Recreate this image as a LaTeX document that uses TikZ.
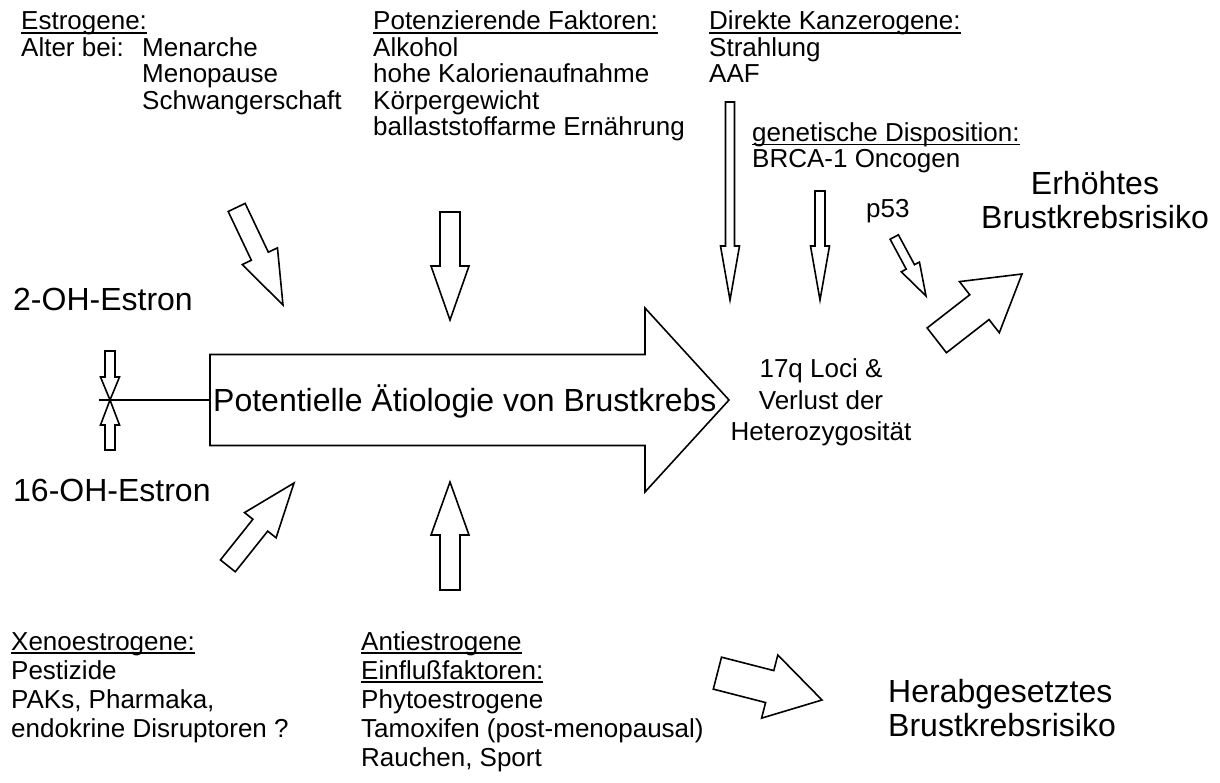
\documentclass[tikz,border=0pt]{standalone}
\usepackage{fontspec}
\setmainfont{Liberation Sans}
\usetikzlibrary{positioning}

% underlined heading
\newcommand{\uhead}[1]{\setbox0\hbox{#1}\rlap{\rule[-3.8pt]{\wd0}{1.5pt}}\box0}

% fat block arrow: tip x, tip y, direction, length, shaft/2, head/2, head length
\newcommand{\fatarrow}[7]{%
  \draw[fat, shift={(#1,#2)}, rotate=#3]
    (0,0) -- (-#7,#6) -- (-#7,#5) -- (-#4,#5) -- (-#4,-#5) -- (-#7,-#5) -- (-#7,-#6) -- cycle;}

\tikzset{
  fat/.style={draw, line width=1.6pt, fill=white},
  small/.style={font=\fontsize{26}{26.5}\selectfont, align=left, inner sep=0pt},
  lower/.style={font=\fontsize{26}{29}\selectfont, align=left, inner sep=0pt},
  big/.style={font=\fontsize{32}{34}\selectfont, inner sep=0pt},
}

\begin{document}
\begin{tikzpicture}[x=1pt, y=-1pt]
        \useasboundingbox (0,0) rectangle (1220,783);

        % Arrows
        \fatarrow{729}{400}{0}{519}{45.5}{92}{84}
        \fatarrow{283}{305}{-64.6}{108}{9.4}{19.5}{54}
        \fatarrow{450}{320}{-90}{108}{10}{19}{54}
        \fatarrow{450}{482}{90}{108}{10}{19}{53}
        \fatarrow{294}{483}{51.4}{106}{9.5}{20.2}{54}
        \fatarrow{730}{300}{-90}{198}{4.5}{9.5}{54}
        \fatarrow{820}{300}{-90}{109}{5}{9.5}{54}
        \fatarrow{926}{296}{-61.7}{67}{4.7}{10.3}{33}
        \fatarrow{1022}{274}{37.9}{108}{15.7}{32.4}{54}
        \fatarrow{822}{700}{-14.4}{108}{16.5}{32.6}{54}
        \fatarrow{110}{400}{-90}{49}{5}{9.5}{23}
        \fatarrow{110}{400}{90}{50}{5}{9.5}{25}

        \coordinate (cross) at (99,400);
        \coordinate (tail) at (210,400);
        \draw[line width=1.6pt] (cross) -- (tail);

        % Texts (base = last line)
        \node[small, anchor=base west] (estro) at (21,56.5) {\uhead{Estrogene:}\\Alter bei:};
        \node[small, anchor=base west] (age) at (142,109.5) {Menarche\\Menopause\\Schwangerschaft};
        \node[small, anchor=base west] (potenz) at (373,136) {\uhead{Potenzierende Faktoren:}\\Alkohol\\hohe Kalorienaufnahme\\Körpergewicht\\ballaststoffarme Ernährung};
        \node[small, anchor=base west] (kanzero) at (709,83) {\uhead{Direkte Kanzerogene:}\\Strahlung\\AAF};
        \node[small, anchor=base west] (genet) at (752,168) {\uhead{genetische Disposition:}\\BRCA-1 Oncogen};
        \node[small, anchor=base west] (p53) at (866,218) {p53};
        \node[big, anchor=base west] (ohtwo) at (13,311) {2-OH-Estron};
        \node[big, anchor=base west] (ohsixteen) at (13,501) {16-OH-Estron};
        \node[big, anchor=base west] (aetiol) at (213,411) {Potentielle Ätiologie von Brustkrebs};
        \node[small, font=\fontsize{26}{31.5}\selectfont, align=center] (loci) at (821,402.5) {17q Loci \&\\Verlust der\\Heterozygosität};
        \node[big, align=center, anchor=base] (hoch) at (1095,229) {Erhöhtes\\Brustkrebsrisiko};
        \node[lower, anchor=base west] (xeno) at (11,737) {\uhead{Xenoestrogene:}\\Pestizide\\PAKs, Pharmaka,\\endokrine Disruptoren ?};
        \node[lower, anchor=base west] (anti) at (361,766) {\uhead{Antiestrogene}\\\uhead{Einflußfaktoren:}\\Phytoestrogene\\Tamoxifen (post-menopausal)\\Rauchen, Sport};
        \node[big, align=left, anchor=base west] (runter) at (888,736) {Herabgesetztes\\Brustkrebsrisiko};
\end{tikzpicture}
\end{document}
